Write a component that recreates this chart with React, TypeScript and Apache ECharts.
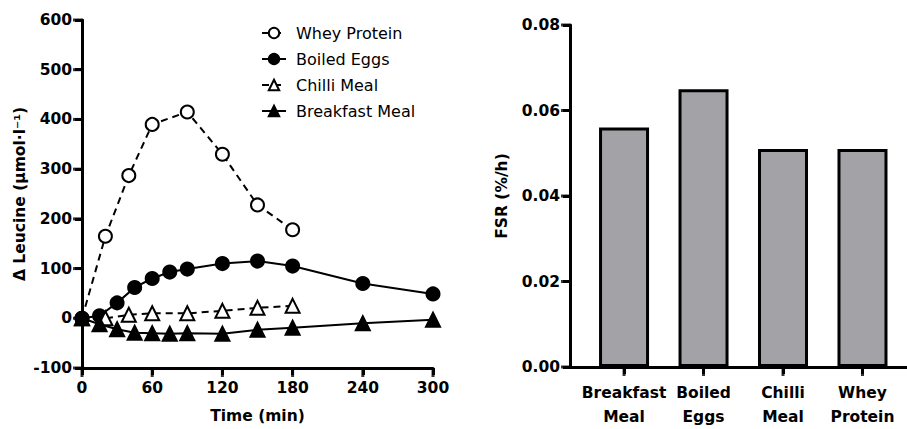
import React, { useEffect, useRef } from "react";
import * as echarts from "echarts";

const wheyTime = [0, 20, 40, 60, 90, 120, 150, 180];
const wheyValues = [0, 165, 287, 390, 415, 330, 228, 178];

const eggTime = [0, 15, 30, 45, 60, 75, 90, 120, 150, 180, 240, 300];
const eggValues = [0, 5, 31, 62, 80, 93, 99, 110, 115, 105, 70, 49];

const chilliTime = [0, 20, 40, 60, 90, 120, 150, 180];
const chilliValues = [0, 0, 7, 10, 10, 15, 21, 25];

const breakfastTime = [0, 15, 30, 45, 60, 75, 90, 120, 150, 180, 240, 300];
const breakfastValues = [0, -12, -22, -29, -30, -31, -30, -31, -23, -19, -10, -3];

const fsrCategories = ["Breakfast\nMeal", "Boiled\nEggs", "Chilli\nMeal", "Whey\nProtein"];
const fsrValues = [0.056, 0.065, 0.051, 0.051];

const leftXTicks = [0, 60, 120, 180, 240, 300];
const leftYTicks = [-100, 0, 100, 200, 300, 400, 500, 600];
const rightXTicks = [0, 1, 2, 3];
const rightYTicks = [0, 0.02, 0.04, 0.06, 0.08];

const leftXMin = 0;
const leftXMax = 300;
const leftYMin = -100;
const leftYMax = 600;
const rightXMin = -0.68;
const rightXMax = 3.56;
const rightYMin = 0;
const rightYMax = 0.08;

const FONT = "DejaVu Sans";
const TICK_FS = 15.5;

function pairs(t: number[], v: number[]) {
  return t.map((x, i) => [x, v[i]]);
}

const label = (extra: any = {}) => ({
  color: "#000",
  fontFamily: FONT,
  fontWeight: "bold",
  fontSize: TICK_FS,
  ...extra,
});
const nameStyle = () => ({ color: "#000", fontFamily: FONT, fontWeight: "bold", fontSize: 15.5 });

const axisFrame = (xVal: number, yVal: number) => ({
  symbol: ["none", "none"],
  silent: true,
  animation: false,
  label: { show: false },
  emphasis: { disabled: true },
  lineStyle: { color: "#000", width: 3, type: "solid" },
  data: [{ xAxis: xVal }, { yAxis: yVal }],
});

const tickSeries = (gi: number, data: number[][], vertical: boolean) => ({
  type: "scatter" as const,
  xAxisIndex: gi,
  yAxisIndex: gi,
  clip: false,
  silent: true,
  symbol: "rect",
  symbolSize: vertical ? [3, 9] : [9, 3],
  symbolOffset: vertical ? [0, 4.5] : [-4.5, 0],
  itemStyle: { color: "#000" },
  emphasis: { disabled: true },
  data,
  z: 2,
});

export default function App() {
  const ref = useRef<HTMLDivElement>(null);
  useEffect(() => {
    if (!ref.current) return;
    const chart = echarts.init(ref.current, undefined, { renderer: "svg" });
    const lineCommon = (dashed: boolean) => ({
      type: "line" as const,
      xAxisIndex: 0,
      yAxisIndex: 0,
      lineStyle: { color: "#000", width: 2, type: dashed ? ([7, 5] as any) : "solid" },
      itemStyle: { color: "#000", borderColor: "#000", borderWidth: 2 },
      symbolSize: 13,
    });
    chart.setOption({
      animation: false,
      textStyle: { fontFamily: FONT },
      legend: {
        orient: "vertical",
        left: 256,
        top: 20,
        itemWidth: 24,
        itemHeight: 13,
        itemGap: 10,
        textStyle: { color: "#000", fontFamily: FONT, fontSize: 16, padding: [0, 0, 0, 5] },
        data: ["Whey Protein", "Boiled Eggs", "Chilli Meal", "Breakfast Meal"],
      },
      grid: [
        { left: 82, top: 20, width: 351, height: 352 },
        { left: 570, top: 25, width: 337, height: 346 },
      ],
      xAxis: [
        {
          gridIndex: 0,
          type: "value",
          min: leftXMin,
          max: leftXMax,
          interval: 60,
          splitLine: { show: false },
          axisLine: { show: true, onZero: false, lineStyle: { color: "#000", width: 3 } },
          axisTick: { show: true, length: 7, lineStyle: { color: "#000", width: 3 } },
          axisLabel: label({ margin: 12 }),
          name: "Time (min)",
          nameLocation: "middle",
          nameGap: 40,
          nameTextStyle: nameStyle(),
        },
        {
          gridIndex: 1,
          type: "value",
          min: rightXMin,
          max: rightXMax,
          splitLine: { show: false },
          axisLine: { show: true, onZero: false, lineStyle: { color: "#000", width: 3 } },
          axisTick: { show: true, length: 7, customValues: rightXTicks, lineStyle: { color: "#000", width: 3 } },
          axisLabel: label({
            margin: 14,
            lineHeight: 24,
            customValues: rightXTicks,
            formatter: (v: number) => fsrCategories[Math.round(v)] ?? "",
          }),
        },
      ],
      yAxis: [
        {
          gridIndex: 0,
          type: "value",
          min: leftYMin,
          max: leftYMax,
          interval: 100,
          splitLine: { show: false },
          axisLine: { show: true, onZero: false, lineStyle: { color: "#000", width: 3 } },
          axisTick: { show: true, length: 7, lineStyle: { color: "#000", width: 3 } },
          axisLabel: label({ margin: 10 }),
          name: "Δ Leucine (μmol·l⁻¹)",
          nameLocation: "middle",
          nameGap: 54,
          nameTextStyle: nameStyle(),
        },
        {
          gridIndex: 1,
          type: "value",
          min: rightYMin,
          max: rightYMax,
          interval: 0.02,
          splitLine: { show: false },
          axisLine: { show: true, onZero: false, lineStyle: { color: "#000", width: 3 } },
          axisTick: { show: true, length: 7, lineStyle: { color: "#000", width: 3 } },
          axisLabel: label({ margin: 10, formatter: (v: number) => v.toFixed(2) }),
          name: "FSR (%/h)",
          nameLocation: "middle",
          nameGap: 60,
          nameTextStyle: nameStyle(),
        },
      ],
      series: [
        {
          ...lineCommon(true),
          name: "Whey Protein",
          symbol: "circle",
          itemStyle: { color: "#fff", borderColor: "#000", borderWidth: 2 },
          data: pairs(wheyTime, wheyValues),
          z: 3,
        },
        {
          ...lineCommon(false),
          name: "Boiled Eggs",
          symbol: "circle",
          clip: false,
          data: pairs(eggTime, eggValues),
          markLine: axisFrame(leftXMin, leftYMin),
          z: 4,
        },
        {
          ...lineCommon(true),
          name: "Chilli Meal",
          symbol: "triangle",
          symbolSize: 14,
          itemStyle: { color: "#fff", borderColor: "#000", borderWidth: 2 },
          data: pairs(chilliTime, chilliValues),
          z: 5,
        },
        {
          ...lineCommon(false),
          name: "Breakfast Meal",
          symbol: "triangle",
          symbolSize: 14,
          data: pairs(breakfastTime, breakfastValues),
          z: 6,
        },
        {
          type: "bar",
          xAxisIndex: 1,
          yAxisIndex: 1,
          barWidth: 50,
          clip: false,
          itemStyle: { color: "#a3a2a7", borderColor: "#000", borderWidth: 3 },
          data: fsrValues.map((v, i) => [i, v]),
          markLine: axisFrame(rightXMin, rightYMin),
        },
        tickSeries(0, leftYTicks.map((v) => [leftXMin, v]), false),
        tickSeries(0, leftXTicks.map((v) => [v, leftYMin]), true),
        tickSeries(1, rightYTicks.map((v) => [rightXMin, v]), false),
        tickSeries(1, rightXTicks.map((v) => [v, rightYMin]), true),
      ],
    });
    return () => chart.dispose();
  }, []);
  return <div ref={ref} style={{ width: 907, height: 429, position: "absolute", left: 0, top: 0 }} />;
}
